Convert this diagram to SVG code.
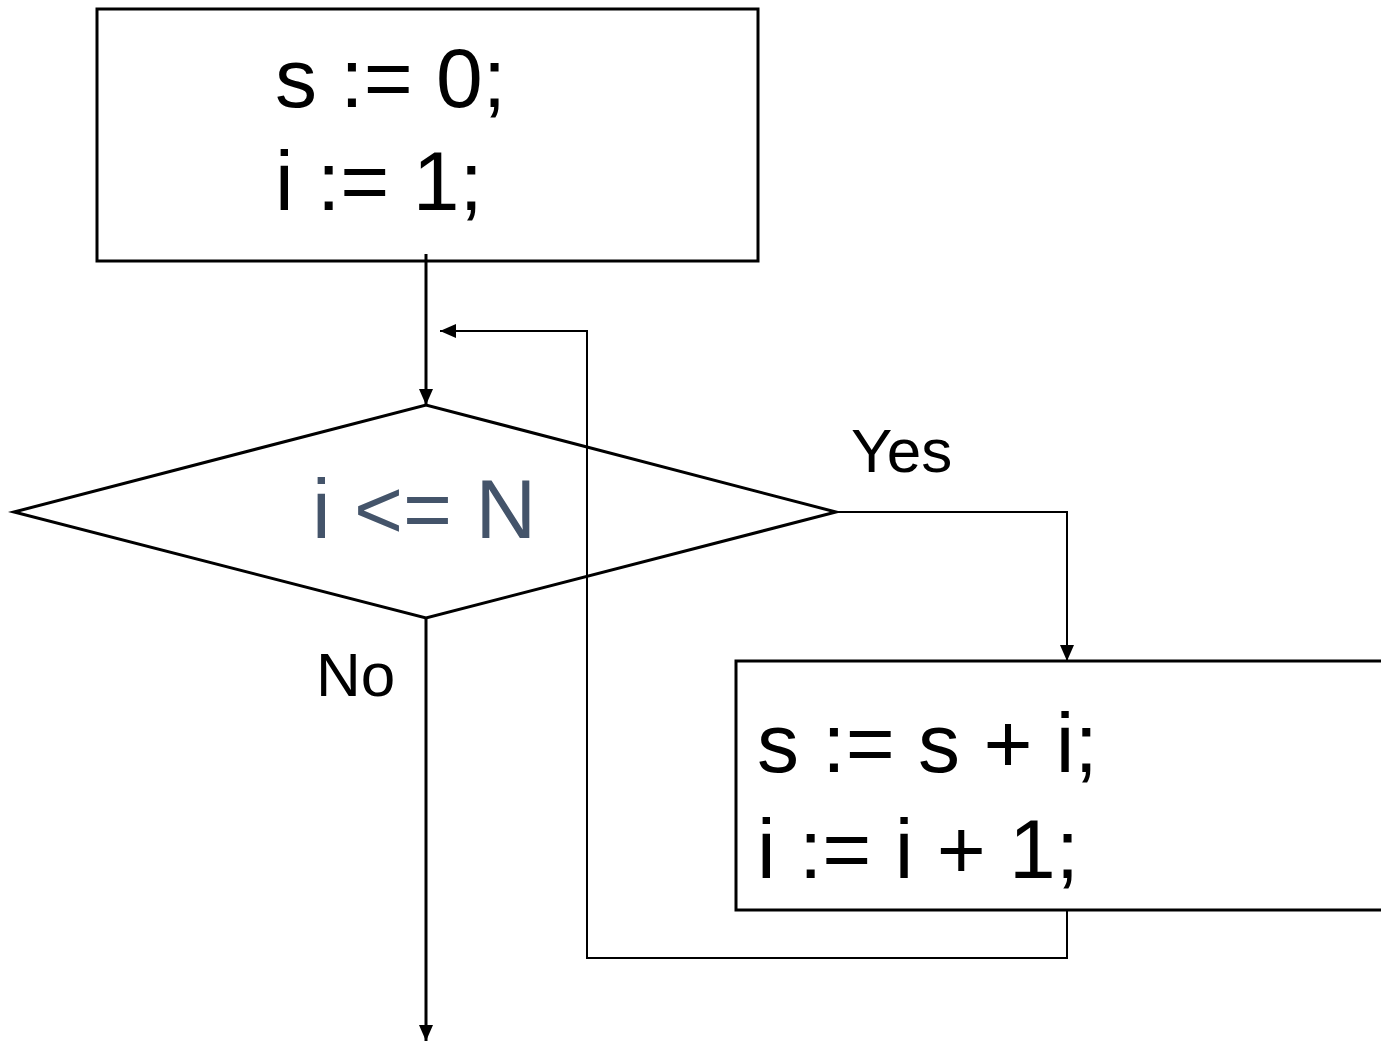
<svg xmlns="http://www.w3.org/2000/svg" width="1381" height="1043" viewBox="0 0 1381 1043">
<style>
.shape{fill:#fff;stroke:#000;stroke-width:3}
.dia{fill:none;stroke:#000;stroke-width:3}
.t{font-family:"Liberation Sans",Arial,sans-serif;fill:#000}
.big{font-size:84px}
.lbl{font-size:62px}
.thick{fill:none;stroke:#000;stroke-width:3}
.thin{fill:none;stroke:#000;stroke-width:2}
</style>
<defs>
<marker id="ah" markerUnits="userSpaceOnUse" viewBox="0 0 16 16" refX="16" refY="8" markerWidth="16" markerHeight="16" orient="auto">
<path d="M0,1 L16,8 L0,15 Z" fill="#000"/>
</marker>
</defs>
<g id="init">
<rect class="shape" x="97" y="9" width="661" height="252"/>
<text class="t big" x="275" y="107">s := 0;</text>
<text class="t big" x="275" y="210">i := 1;</text>
</g>
<g id="decision">
<polygon class="dia" points="14,512 426,405 836,512 426,618"/>
<text class="t big" x="312" y="538" style="fill:#44546A">i &lt;= N</text>
</g>
<g id="body">
<rect class="shape" x="736" y="661" width="660" height="249"/>
<text class="t big" x="757" y="772">s := s + i;</text>
<text class="t big" x="757" y="878">i := i + 1;</text>
</g>
<g id="connectors">
<path class="thick" d="M426,254 V405" marker-end="url(#ah)"/>
<path class="thin" d="M1067,910 V958 H587 V331 H440" marker-end="url(#ah)"/>
<path class="thin" d="M836,512 H1067 V661" marker-end="url(#ah)"/>
<path class="thick" d="M426,618 V1041" marker-end="url(#ah)"/>
</g>
<g id="labels">
<text class="t lbl" x="851" y="472">Yes</text>
<text class="t lbl" x="316" y="696">No</text>
</g>
</svg>
